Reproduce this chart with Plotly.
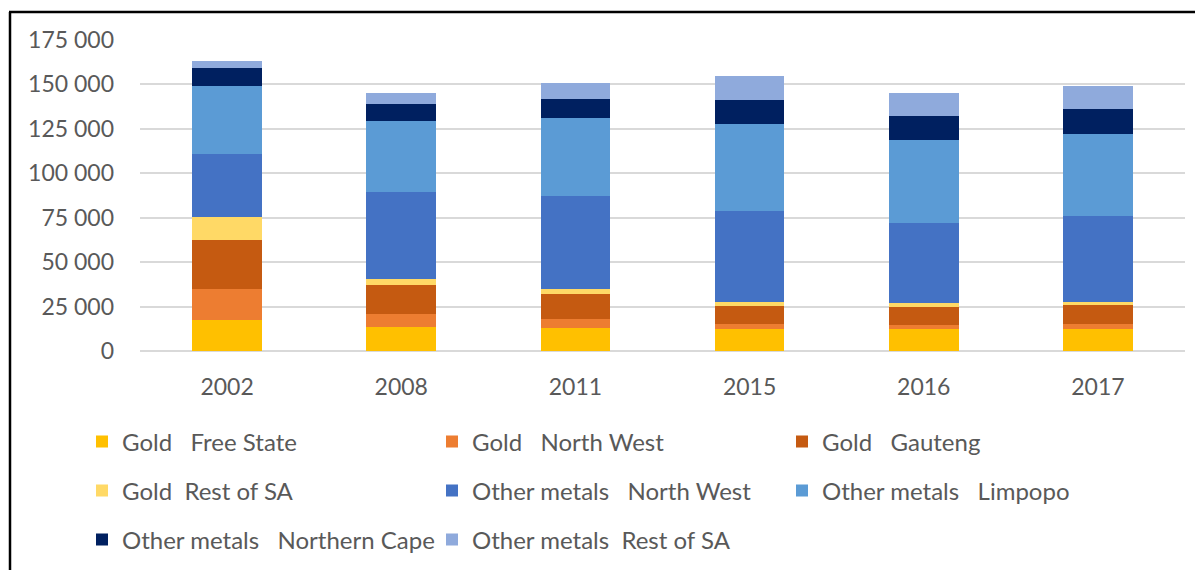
import plotly.graph_objects as go

years = ["2002", "2008", "2011", "2015", "2016", "2017"]

series_names = [
    "Gold\u00a0\u00a0\u00a0Free State",
    "Gold\u00a0\u00a0\u00a0North West",
    "Gold\u00a0\u00a0\u00a0Gauteng",
    "Gold\u00a0\u00a0Rest of SA",
    "Other metals\u00a0\u00a0\u00a0North West",
    "Other metals\u00a0\u00a0\u00a0Limpopo",
    "Other metals\u00a0\u00a0\u00a0Northern Cape",
    "Other metals\u00a0\u00a0Rest of SA",
]

gold_free_state = [17500, 13700, 13100, 12600, 12400, 12600]
gold_north_west = [17600, 6900, 4700, 2400, 2200, 2600]
gold_gauteng = [27400, 16400, 14100, 10300, 10300, 10700]
gold_rest_sa = [13100, 3700, 2800, 2100, 2100, 1700]
other_north_west = [35400, 48900, 52500, 51200, 45000, 48200]
other_limpopo = [38100, 40000, 43700, 49000, 46600, 46500]
other_northern_cape = [10000, 9200, 10900, 13500, 13500, 13700]
other_rest_sa = [4100, 6200, 8800, 13600, 13100, 13100]

colors = ["#FFC000", "#ED7D31", "#C55A11", "#FFD966",
          "#4472C4", "#5B9BD5", "#002060", "#8FAADC"]
legend_ids = ["legend", "legend", "legend", "legend2",
              "legend2", "legend2", "legend3", "legend3"]

values = [gold_free_state, gold_north_west, gold_gauteng, gold_rest_sa,
          other_north_west, other_limpopo, other_northern_cape, other_rest_sa]

FONT = "Lato, 'Open Sans', sans-serif"
GREY = "#595959"

fig = go.Figure()
for name, vals, col, lg in zip(series_names, values, colors, legend_ids):
    fig.add_trace(go.Bar(
        x=years, y=vals, name=name, marker_color=col,
        marker_line_width=0, legend=lg, hoverinfo="skip",
    ))

# page has an 8px body margin; figure coords = page coords - 8
OFF = 8
W, H = 1195, 562
L, R, T, B = 132, 18, 32, 219
pw = W - L - R
ph = H - T - B

def px_x(p):
    return (p - OFF - L) / pw

def px_y(p):
    return (H - B - (p - OFF)) / ph

leg_common = dict(
    orientation="h", xanchor="left", yanchor="middle",
    traceorder="normal",
    font=dict(family=FONT, size=24, color=GREY),
    entrywidth=305, entrywidthmode="pixels",
    bgcolor="rgba(0,0,0,0)", itemclick=False, itemdoubleclick=False,
)

fig.update_layout(
    width=W, height=H,
    margin=dict(l=L, r=R, t=T, b=B, autoexpand=False),
    paper_bgcolor="white", plot_bgcolor="white",
    barmode="stack", bargap=0.6,
    font=dict(family=FONT, color=GREY),
    showlegend=True,
    legend=dict(x=px_x(82), y=px_y(442), **leg_common),
    legend2=dict(x=px_x(82), y=px_y(491), **leg_common),
    legend3=dict(x=px_x(82), y=px_y(540), **leg_common),
    xaxis=dict(
        showgrid=False, showline=False, zeroline=False,
        tickfont=dict(family=FONT, size=23, color=GREY),
        ticklabelstandoff=20,
    ),
    yaxis=dict(
        range=[0, 175000], tickvals=[0, 25000, 50000, 75000, 100000, 125000, 150000, 175000],
        ticktext=["0", "25 000", "50 000", "75 000", "100 000", "125 000", "150 000", "175 000"],
        showgrid=True, gridcolor="#D9D9D9", gridwidth=1.5,
        zeroline=True, zerolinecolor="#D9D9D9", zerolinewidth=1.5,
        showline=False,
        tickfont=dict(family=FONT, size=23, color=GREY),
        ticklabelstandoff=25,
    ),
    shapes=[
        dict(type="line", xref="paper", yref="paper",
             x0=px_x(9), x1=px_x(1215), y0=px_y(12), y1=px_y(12),
             line=dict(color="black", width=2.5)),
        dict(type="line", xref="paper", yref="paper",
             x0=px_x(10), x1=px_x(10), y0=px_y(12), y1=px_y(585),
             line=dict(color="black", width=2.5)),
    ],
)

fig.write_html("out.html")
